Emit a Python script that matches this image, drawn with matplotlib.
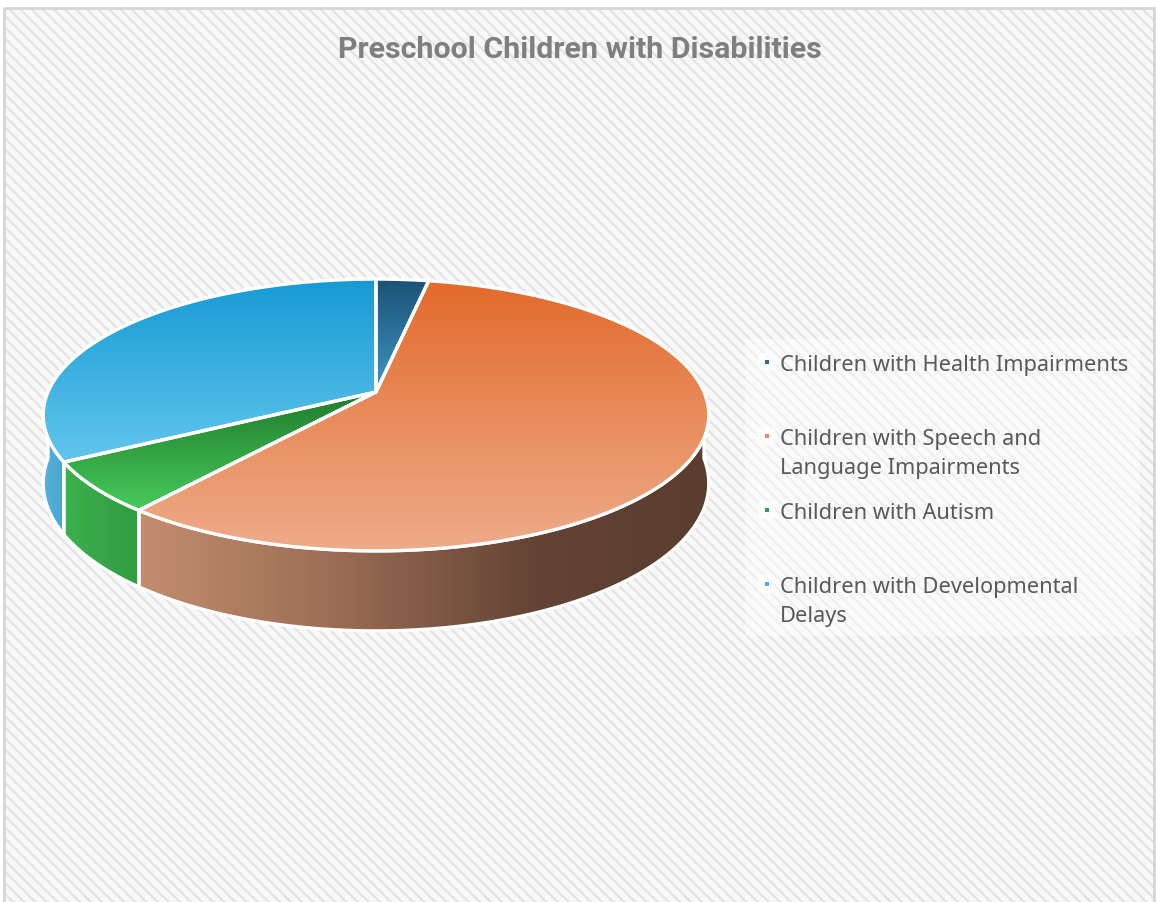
import numpy as np
import matplotlib
matplotlib.use("Agg")
import matplotlib.pyplot as plt
from matplotlib.patches import Polygon, Rectangle, FancyBboxPatch
from matplotlib.colors import LinearSegmentedColormap

# ---- data -------------------------------------------------------------
title = "Preschool Children with Disabilities"
categories = [
    "Children with Health Impairments",
    "Children with Speech and\nLanguage Impairments",
    "Children with Autism",
    "Children with Developmental\nDelays",
]
shares = [3.0, 57.8, 6.1, 33.1]

# top-face gradients (upper colour, lower colour) and side gradients (left, right)
top_colors = [("#1b5276", "#3f95c3"), ("#e36a2c", "#eeac8a"),
              ("#1f7a2c", "#46cb5b"), ("#169ad4", "#62c6ed")]
side_colors = [("#2a6f98", "#1e5a80"), ("#c48e6e", "#5a3d2f"),
               ("#3db04e", "#2f9c40"), ("#55b3dc", "#47a5cf")]
marker_colors = ["#1f6e9b", "#ee8a5a", "#2ea043", "#3fb1e3"]

# ---- canvas in pixel units -------------------------------------------
W, H = 1156, 903
fig = plt.figure(figsize=(W / 100, H / 100), dpi=100)
ax = fig.add_axes([0, 0, 1, 1])
ax.set_xlim(0, W)
ax.set_ylim(H, 0)
ax.axis("off")

# chart area: diagonal stripes with a light frame
plt.rcParams["hatch.linewidth"] = 1.6
ax.add_patch(Rectangle((4, 8), W, H, facecolor="#f8f8f8", edgecolor="#e3e3e3",
                       hatch="\\\\\\", linewidth=0, zorder=0))
ax.add_patch(Rectangle((3.5, 8.5), W - 6, H, facecolor="none",
                       edgecolor="#d6d6d6", linewidth=2, zorder=1))

# ---- 3-D pie geometry -------------------------------------------------
CX, CY = 376.0, 393.0      # projected centre of the top face
RX = 328.0                 # horizontal radius
TILT = -65.6               # vertical foreshortening
PERSP = 0.169              # perspective strength
DEPTH = 66.5               # thickness of the disc


def proj(theta):
    t = np.radians(theta)
    u, v = np.sin(t), np.cos(t)
    w = 1 + PERSP * v
    return CX + RX * u / w, (TILT * v + CY) / w, w


def arc(a0, a1, drop=False):
    n = max(3, int(abs(a1 - a0) * 2))
    th = np.linspace(a0, a1, n)
    x, y, w = proj(th)
    if drop:
        y = y + DEPTH / w
    return np.column_stack([x, y])


def gradient_fill(pts, c0, c1, horizontal, z, stops=None):
    clip = Polygon(pts, closed=True, facecolor="none", edgecolor="none",
                   transform=ax.transData)
    ax.add_patch(clip)
    clip.set_visible(False)
    if stops is None:
        cmap = LinearSegmentedColormap.from_list("g", [c0, c1])
    else:
        cmap = LinearSegmentedColormap.from_list("g", stops)
    ramp = np.linspace(0, 1, 256)
    img = ramp[None, :] if horizontal else ramp[:, None]
    x0, y0 = pts.min(axis=0)
    x1, y1 = pts.max(axis=0)
    im = ax.imshow(img, cmap=cmap, extent=(x0, x1, y1, y0), origin="upper",
                   aspect="auto", interpolation="bilinear", zorder=z)
    im.set_clip_path(clip)
    ax.add_patch(Polygon(pts, closed=True, facecolor="none", edgecolor="white",
                         linewidth=2.4, joinstyle="round", zorder=z + 0.5))


bounds = np.concatenate([[0], np.cumsum(shares)]) / np.sum(shares) * 360

# sides (front half only)
for i in range(len(shares)):
    lo, hi = max(bounds[i], 90), min(bounds[i + 1], 270)
    if hi <= lo:
        continue
    pts = np.vstack([arc(lo, hi), arc(hi, lo, drop=True)])
    stops = None
    if i == 1:
        stops = [(0.0, side_colors[i][0]), (0.35, "#9a6c54"),
                 (0.7, "#634334"), (1.0, side_colors[i][1])]
    gradient_fill(pts, side_colors[i][0], side_colors[i][1], True, 3, stops)

# top faces
for i in range(len(shares)):
    pts = np.vstack([[[CX, CY]], arc(bounds[i], bounds[i + 1])])
    gradient_fill(pts, top_colors[i][0], top_colors[i][1], False, 5)

# ---- title ------------------------------------------------------------
t = ax.text(580, 50, title, ha="center", va="center", color="#7f7f7f",
            fontsize=20, fontweight="bold", family="Roboto", zorder=10)
fig.canvas.draw()
tw = t.get_window_extent().width
t.set_fontsize(20 * 483 / tw)

# ---- legend -----------------------------------------------------------
ax.add_patch(Rectangle((745, 340), 395, 297, facecolor="white", alpha=0.45,
                       edgecolor="none", zorder=8))
entry_y = [363, 437, 511, 585]
texts = []
for label, y, mc in zip(categories, entry_y, marker_colors):
    ax.add_patch(FancyBboxPatch((758, y - 9), 17, 18,
                                boxstyle="round,pad=0,rounding_size=4",
                                facecolor="white", edgecolor="none",
                                alpha=0.8, zorder=9))
    ax.add_patch(Rectangle((765, y - 2), 4, 4, facecolor=mc,
                           edgecolor="none", zorder=10))
    txt = ax.text(780, y - 8, label, ha="left", va="top", color="#595959",
                  fontsize=14, family="Noto Sans", linespacing=1.5,
                  zorder=10)
    texts.append(txt)
fig.canvas.draw()
lw = texts[0].get_window_extent().width
for txt in texts:
    txt.set_fontsize(14 * 348 / lw)

fig.savefig("out.png", dpi=100)
